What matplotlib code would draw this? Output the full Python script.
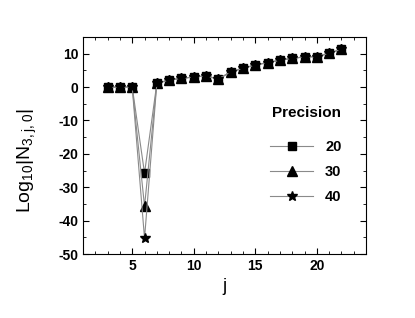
import matplotlib.pyplot as plt

plt.rcParams['font.family'] = ['Liberation Sans', 'DejaVu Sans']
plt.rcParams['mathtext.default'] = 'regular'
plt.rcParams['axes.unicode_minus'] = False

# data
j = [3, 4, 5, 6, 7, 8, 9, 10, 11, 12, 13, 14, 15, 16, 17, 18, 19, 20, 21, 22]
common = [-0.1, 0.0, 0.0, None, 1.1, 2.1, 2.6, 3.0, 3.3, 2.4, 4.5, 5.6, 6.6,
          7.3, 8.0, 8.6, 9.0, 9.1, 10.1, 11.3]
dip = {"20": -25.8, "30": -35.7, "40": -45.3}
markers = {"20": "s", "30": "^", "40": "*"}
msizes = {"20": 5.5, "30": 6.5, "40": 7.5}

fig = plt.figure(figsize=(4.15, 3.18), dpi=100)
ax = fig.add_axes([0.2, 0.201, 0.682, 0.683])

for prec in ["20", "30", "40"]:
    y = [dip[prec] if v is None else v for v in common]
    ax.plot(j, y, color="#8a8a8a", lw=0.8, marker=markers[prec],
            ms=msizes[prec], mfc="black", mec="black", label=prec)

ax.set_xlim(1, 24)
ax.set_ylim(-50, 15)
ax.set_xticks([5, 10, 15, 20])
ax.set_xticks(range(1, 25), minor=True)
ax.set_yticks(range(-50, 11, 10))
ax.set_yticks(range(-50, 16, 5), minor=True)
ax.tick_params(which="both", direction="in", top=True, right=True)
ax.tick_params(which="major", length=4, labelsize=10)
ax.tick_params(which="minor", length=2)
for lbl in ax.get_xticklabels() + ax.get_yticklabels():
    lbl.set_fontweight("bold")

ax.set_xlabel("j", fontsize=13)
ax.set_ylabel(r"Log$_{10}$|N$_{3,j,0}$|", fontsize=14)
ax.yaxis.set_label_coords(-0.155, 0.43)

ax.text(0.79, 0.65, "Precision", transform=ax.transAxes, ha="center",
        va="center", fontsize=11, fontweight="bold")
leg = ax.legend(frameon=False, loc="center right",
                bbox_to_anchor=(0.955, 0.378), fontsize=10.5, handlelength=3,
                labelspacing=0.75, borderpad=0.3)
for t in leg.get_texts():
    t.set_fontweight("bold")

fig.savefig("out.png", dpi=100)
